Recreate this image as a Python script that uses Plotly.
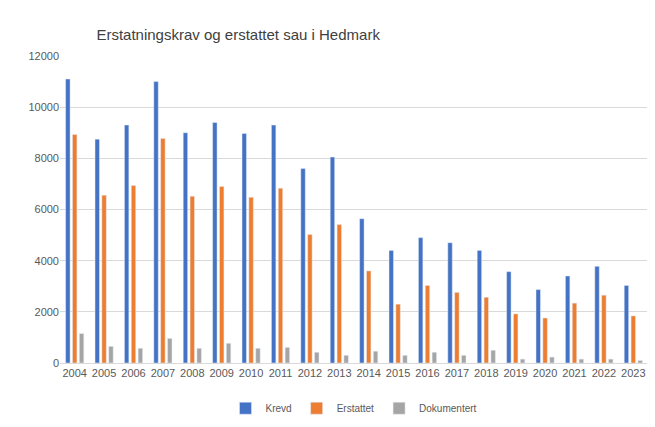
import plotly.graph_objects as go

years = [str(y) for y in range(2004, 2024)]
krevd = [11100, 8750, 9300, 11000, 9000, 9400, 8970, 9300, 7600, 8050,
         5640, 4400, 4900, 4700, 4400, 3570, 2870, 3400, 3780, 3030]
erstattet = [8930, 6560, 6940, 8780, 6520, 6900, 6480, 6830, 5020, 5410,
             3600, 2300, 3030, 2760, 2570, 1920, 1760, 2340, 2650, 1840]
dokumentert = [1150, 650, 575, 960, 575, 770, 575, 610, 420, 300,
               460, 300, 420, 300, 500, 150, 230, 150, 150, 100]

fig = go.Figure()
fig.add_trace(go.Bar(x=years, y=krevd, name="Krevd", marker_color="#4472C4"))
fig.add_trace(go.Bar(x=years, y=erstattet, name="Erstattet", marker_color="#ED7D31"))
fig.add_trace(go.Bar(x=years, y=dokumentert, name="Dokumentert", marker_color="#A5A5A5"))

fig.update_layout(
  width=655, height=427,
  paper_bgcolor="white", plot_bgcolor="white",
  font=dict(family="Liberation Sans, Arial", size=11, color="#595959"),
  title=dict(text="Erstatningskrav og erstattet sau i Hedmark", x=0.135, y=0.95,
             xanchor="left", font=dict(size=15, color="#404040")),
  margin=dict(l=52, r=15, t=48, b=62),
  bargap=0.3, bargroupgap=0.35,
  legend=dict(orientation="h", x=0.5, xanchor="center", y=-0.1, yanchor="top",
              font=dict(size=10), itemwidth=30),
)
fig.update_xaxes(showline=True, linecolor="#D9D9D9", ticks="")
fig.update_yaxes(range=[0, 12000], dtick=2000, gridcolor="#D9D9D9",
                 zeroline=False, tickformat="d")

fig.write_html("out.html")
